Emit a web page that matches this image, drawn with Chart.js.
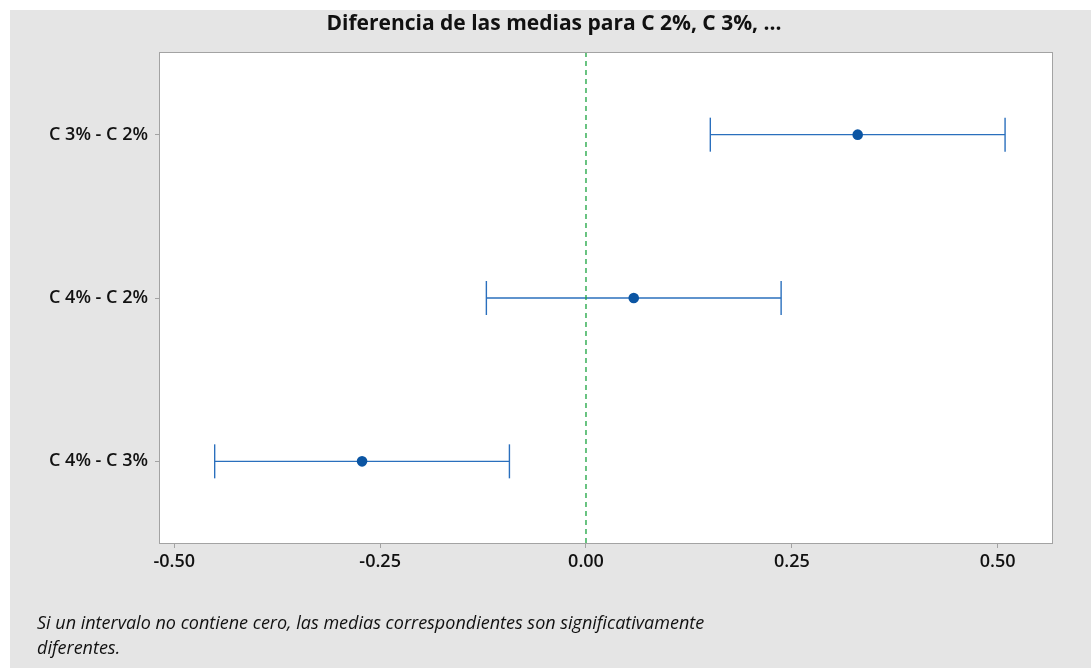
<!DOCTYPE html>
<html>
<head>
<meta charset="utf-8">
<script src="https://cdn.jsdelivr.net/npm/chart.js@4.4.1/dist/chart.umd.min.js"></script>
<style>
  html, body { margin: 0; padding: 0; background: #fff; }
  #panel {
    position: absolute; left: 10px; top: 10px;
    width: 1081px; height: 658px; background: #e5e5e5;
  }
  #chart { position: absolute; left: 0; top: 0; }
  #title {
    position: absolute; left: 0; top: 0; width: 1088px;
    text-align: center; font-family: "Open Sans", sans-serif;
    font-weight: bold; font-size: 21px; line-height: 24px; color: #111;
  }
  #note {
    position: absolute; left: 27px; top: 600px;
    font-family: "Open Sans", sans-serif; font-style: italic;
    font-size: 18px; line-height: 25px; color: #111;
  }
</style>
</head>
<body>
<div id="panel">
  <canvas id="chart" width="1081" height="658"></canvas>
  <div id="title">Diferencia de las medias para C 2%, C 3%, ...</div>
  <div id="note">Si un intervalo no contiene cero, las medias correspondientes son significativamente<br>diferentes.</div>
</div>
<script>
// Tukey pairwise differences with 95% intervals
const pairs = ["C 3% - C 2%", "C 4% - C 2%", "C 4% - C 3%"];
const diffs = [0.330, 0.058, -0.272];
const lower = [0.151, -0.121, -0.451];
const upper = [0.509, 0.237, -0.093];
const xTicks = [-0.50, -0.25, 0.00, 0.25, 0.50];

const lineBlue = "#2a6fbd";
const dotBlue = "#0b55a3";
const frameGray = "#a3a3a3";

// first pair at the top
const rowY = (i) => pairs.length - i;

const intervalSets = pairs.map((p, i) => ({
  label: p,
  order: 2,
  data: [{ x: lower[i], y: rowY(i) }, { x: upper[i], y: rowY(i) }],
  showLine: true,
  borderColor: lineBlue,
  borderWidth: 1.4,
  pointStyle: "line",
  rotation: 90,
  pointRadius: 17,
  pointBorderColor: lineBlue,
  pointBorderWidth: 1.4,
}));

const plotFrame = {
  id: "plotFrame",
  beforeDatasetsDraw(chart) {
    const a = chart.chartArea;
    const ctx = chart.ctx;
    ctx.save();
    ctx.fillStyle = "#fff";
    ctx.fillRect(a.left, a.top, a.right - a.left, a.bottom - a.top);
    ctx.strokeStyle = frameGray;
    ctx.lineWidth = 1;
    ctx.strokeRect(a.left - 0.5, a.top - 0.5, a.right - a.left + 1, a.bottom - a.top + 1);
    ctx.restore();
  },
};

new Chart(document.getElementById("chart"), {
  type: "scatter",
  plugins: [plotFrame],
  data: {
    datasets: [
      {
        label: "Diferencia",
        order: 0,
        data: diffs.map((d, i) => ({ x: d, y: rowY(i) })),
        pointRadius: 5.3,
        pointBackgroundColor: dotBlue,
        pointBorderColor: dotBlue,
        pointBorderWidth: 0,
      },
      {
        label: "cero",
        order: 1,
        data: [{ x: 0, y: 0.5 }, { x: 0, y: 3.5 }],
        showLine: true,
        borderColor: "#1aa33f",
        borderWidth: 1.3,
        borderDash: [5, 4],
        pointRadius: 0,
      },
      ...intervalSets,
    ],
  },
  options: {
    responsive: false,
    animation: false,
    layout: { padding: { left: 0, right: 39, top: 43, bottom: 0 } },
    plugins: {
      legend: { display: false },
      tooltip: { enabled: false },
    },
    scales: {
      x: {
        type: "linear",
        min: -0.5174,
        max: 0.566,
        afterBuildTicks: (s) => { s.ticks = xTicks.map((v) => ({ value: v })); },
        afterFit: (s) => { s.height = 125; },
        grid: { drawOnChartArea: false, tickLength: 5, tickColor: frameGray },
        border: { display: false },
        ticks: {
          padding: 3,
          color: "#111",
          font: { family: "Open Sans", size: 18, weight: "600" },
          callback: (v) => Number(v).toFixed(2),
        },
      },
      y: {
        type: "linear",
        min: 0.5,
        max: 3.5,
        afterBuildTicks: (s) => { s.ticks = pairs.map((p, i) => ({ value: rowY(i) })); },
        afterFit: (s) => { s.width = 150; },
        grid: { drawOnChartArea: false, tickLength: 5, tickColor: frameGray },
        border: { display: false },
        ticks: {
          padding: 7,
          color: "#111",
          font: { family: "Open Sans", size: 18, weight: "600" },
          callback: (v) => pairs[pairs.length - v],
        },
      },
    },
  },
});
</script>
</body>
</html>
